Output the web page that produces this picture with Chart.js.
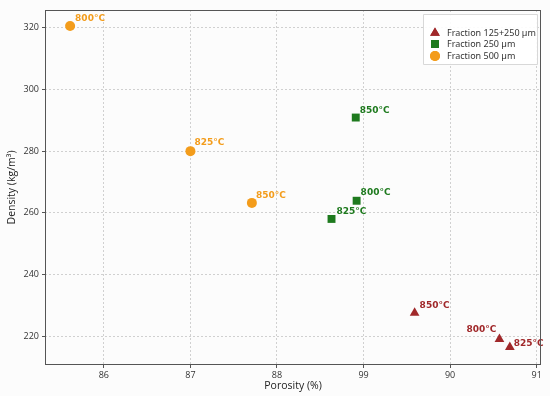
<!DOCTYPE html>
<html>
<head>
<meta charset="utf-8">
<script src="https://cdn.jsdelivr.net/npm/chart.js@4.4.1/dist/chart.umd.min.js"></script>
<style>
  html, body { margin: 0; padding: 0; background: #fff; }
  #wrap { width: 550px; height: 396px; }
</style>
</head>
<body>
<div id="wrap"><canvas id="chart" width="550" height="396"></canvas></div>
<script>
'use strict';

// Values
var seriesNames = ['Fraction 125+250 \u00b5m', 'Fraction 250 \u00b5m', 'Fraction 500 \u00b5m'];
var temps = ['800\u00b0C', '825\u00b0C', '850\u00b0C'];

var porosity125 = [90.57, 90.69, 89.59];
var density125 = [219.0, 216.4, 227.5];
var porosity250 = [88.92, 88.63, 88.91];
var density250 = [263.9, 258.0, 290.9];
var porosity500 = [85.61, 87.00, 87.71];
var density500 = [320.6, 280.0, 263.2];

var xTicks = [86, 87, 88, 89, 90, 91];
var xTickLabels = ['86', '87', '88', '99', '90', '91'];
var yTicks = [220, 240, 260, 280, 300, 320];

// Styling
var colors = ['#a0282a', '#1e7a1e', '#f39c1b'];
var shapes = ['triangle', 'rect', 'circle'];
var radii = [5.6, 5.6, 5];
// label offsets in px per point (dx, dy, align)
var labelOffsets = [
  [[-3, -9, 'right'], [4, -3, 'left'], [5, -7, 'left']],
  [[4, -8, 'left'], [5, -7, 'left'], [4, -7, 'left']],
  [[5, -7, 'left'], [4, -8, 'left'], [4, -7, 'left']]
];

function makePoints(xs, ys) {
  return xs.map(function(x, i) { return { x: x, y: ys[i] }; });
}

var allX = [porosity125, porosity250, porosity500];
var allY = [density125, density250, density500];

var datasets = seriesNames.map(function(name, i) {
  return {
    label: name,
    data: makePoints(allX[i], allY[i]),
    pointStyle: shapes[i],
    pointRadius: radii[i],
    pointHoverRadius: radii[i],
    backgroundColor: colors[i],
    borderColor: colors[i],
    borderWidth: 0
  };
});

var FONT = '"Open Sans", sans-serif';
var NS = '"Noto Sans", sans-serif';
var DV = '"DejaVu Sans", sans-serif';

var pointLabels = {
  id: 'pointLabels',
  afterDatasetsDraw: function(chart) {
    var ctx = chart.ctx;
    ctx.save();
    ctx.font = 'bold 9px ' + DV;
    ctx.textBaseline = 'middle';
    chart.data.datasets.forEach(function(ds, di) {
      var meta = chart.getDatasetMeta(di);
      meta.data.forEach(function(el, i) {
        var off = labelOffsets[di][i];
        ctx.fillStyle = colors[di];
        ctx.textAlign = off[2];
        ctx.fillText(temps[i], el.x + off[0], el.y + off[1]);
      });
    });
    ctx.restore();
  }
};

var frameAndLegend = {
  id: 'frameAndLegend',
  beforeDraw: function(chart) {
    var ctx = chart.ctx;
    ctx.save();
    ctx.fillStyle = '#fcfcfc';
    ctx.fillRect(0, 0, chart.width, chart.height);
    ctx.restore();
  },
  afterDraw: function(chart) {
    var ctx = chart.ctx;
    var a = chart.chartArea;
    ctx.save();
    ctx.strokeStyle = '#555';
    ctx.lineWidth = 1;
    ctx.strokeRect(a.left + 0.5, a.top + 0.5, a.right - a.left - 1, a.bottom - a.top - 1);

    // legend box
    var bx = 423.5, by = 14.5, bw = 114, bh = 50;
    ctx.fillStyle = 'rgba(255,255,255,0.9)';
    ctx.strokeStyle = '#d8d8d8';
    ctx.beginPath();
    ctx.rect(bx, by, bw, bh);
    ctx.fill();
    ctx.stroke();
    ctx.font = '9px ' + NS;
    ctx.textBaseline = 'middle';
    ctx.textAlign = 'left';
    var rowY = [33, 44, 56];
    chart.data.datasets.forEach(function(ds, di) {
      ctx.fillStyle = colors[di];
      ctx.strokeStyle = colors[di];
      Chart.helpers.drawPoint(ctx, { pointStyle: shapes[di], radius: radii[di], borderWidth: 0 }, 435, rowY[di]);
      ctx.fill();
      ctx.fillStyle = '#333';
      ctx.fillText(ds.label, 447, rowY[di]);
    });
    ctx.restore();
  }
};

new Chart(document.getElementById('chart'), {
  type: 'scatter',
  data: { datasets: datasets },
  options: {
    responsive: false,
    animation: false,
    events: [],
    layout: { padding: { top: 10, right: 9, left: 6, bottom: 4 } },
    plugins: {
      legend: { display: false },
      tooltip: { enabled: false }
    },
    scales: {
      x: {
        type: 'linear',
        min: 85.32,
        max: 91.05,
        afterBuildTicks: function(scale) {
          scale.ticks = xTicks.map(function(v) { return { value: v }; });
        },
        afterFit: function(scale) { scale.height = 27; },
        ticks: {
          color: '#333',
          font: { family: FONT, size: 9 },
          padding: 2,
          maxRotation: 0,
          callback: function(v) {
            var i = xTicks.indexOf(v);
            return i >= 0 ? xTickLabels[i] : '';
          }
        },
        grid: {
          color: '#d0d0d0',
          tickLength: 3,
          tickColor: '#555',
          drawTicks: true
        },
        border: { display: false, dash: [2, 2] },
        title: {
          display: true,
          text: 'Porosity (%)',
          color: '#222',
          font: { family: FONT, size: 10.5 },
          padding: { top: 0, bottom: 0 }
        }
      },
      y: {
        type: 'linear',
        min: 210.6,
        max: 325.8,
        afterBuildTicks: function(scale) {
          scale.ticks = yTicks.map(function(v) { return { value: v }; });
        },
        afterFit: function(scale) { scale.width = 39; },
        ticks: {
          color: '#333',
          font: { family: FONT, size: 9 },
          padding: 3
        },
        grid: {
          color: '#d0d0d0',
          tickLength: 3,
          tickColor: '#555'
        },
        border: { display: false, dash: [2, 2] },
        title: {
          display: true,
          text: 'Density (kg/m\u00b3)',
          color: '#222',
          font: { family: FONT, size: 10.5 },
          padding: { top: 0, bottom: 0 }
        }
      }
    }
  },
  plugins: [pointLabels, frameAndLegend]
});
</script>
</body>
</html>
